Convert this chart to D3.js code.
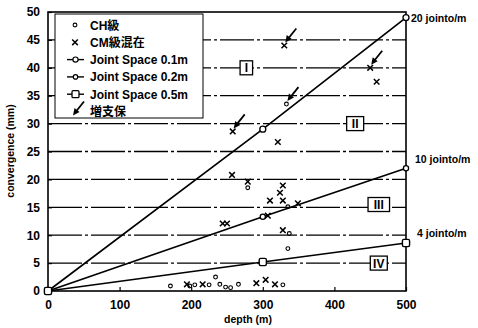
<!DOCTYPE html>
<html>
<head>
<meta charset="utf-8">
<script src="https://cdn.jsdelivr.net/npm/d3@7/dist/d3.min.js"></script>
<style>
  html, body { margin: 0; padding: 0; background: #fff; }
  svg text { font-family: "Liberation Sans", "Noto Sans CJK JP", sans-serif; font-weight: bold; fill: #000; }
</style>
</head>
<body>
<svg id="chart" width="478" height="328"></svg>
<script>
// Design lines: depth (m) vs predicted convergence (mm) for each joint spacing
const depths = [0, 300, 500];
const js01 = [0, 29, 49];    // Joint Space 0.1m (20 joints/m)
const js02 = [0, 13.3, 22];  // Joint Space 0.2m (10 joints/m)
const js05 = [0, 5.2, 8.6];  // Joint Space 0.5m (4 joints/m)

// Measured sections: CH class
const chDepth = [171, 198, 205, 225, 234, 240, 248, 255, 266, 328, 279, 333, 335, 337, 335];
const chConv  = [0.9, 0.9, 1.1, 1.1, 2.5, 1.2, 0.7, 0.6, 1.2, 1.1, 18.5, 33.5, 15.1, 10.3, 7.6];

// Measured sections: mixed CM class
const cmDepth = [330, 450, 459, 258, 321, 257, 279, 328, 324, 310, 328, 349, 307, 244, 250, 328, 194, 216, 291, 304, 317];
const cmConv  = [44, 40, 37.5, 28.6, 26.7, 20.8, 19.6, 18.9, 17.6, 16.2, 16.2, 15.7, 13.5, 12.1, 12.1, 10.9, 1.2, 1.2, 1.4, 2.0, 1.2];

// Sections where support was increased
const supDepth = [330, 450, 333, 258];
const supConv  = [44, 40, 33.5, 28.6];

// Axis ticks and labels
const xTicks = [0, 100, 200, 300, 400, 500];
const yTicks = [0, 5, 10, 15, 20, 25, 30, 35, 40, 45, 50];
const gridVals = [5, 10, 15, 20, 25, 30, 35, 40, 45];
const zoneNames = ["I", "II", "III", "IV"];
const zoneDepth = [277, 429, 462, 462];
const zoneConv  = [40, 30, 15.5, 5];
const lineNames = ["20 jointo/m", "10 jointo/m", "4 jointo/m"];
const legendNames = ["CH級", "CM級混在", "Joint Space 0.1m", "Joint Space 0.2m", "Joint Space 0.5m", "増支保"];

const svg = d3.select("#chart");
const x = d3.scaleLinear().domain([0, 500]).range([48, 406]);
const y = d3.scaleLinear().domain([0, 50]).range([291, 12]);

// horizontal grid (dash-dot)
svg.append("g").selectAll("line").data(gridVals).join("line")
  .attr("x1", x(0)).attr("x2", x(500))
  .attr("y1", d => y(d)).attr("y2", d => y(d))
  .attr("stroke", "#000").attr("stroke-width", 1.3)
  .attr("stroke-dasharray", "34,3,3,3");

// frame
svg.append("rect")
  .attr("x", x(0)).attr("y", y(50))
  .attr("width", x(500) - x(0)).attr("height", y(0) - y(50))
  .attr("fill", "none").attr("stroke", "#000").attr("stroke-width", 1.6);

// axes
const yAxis = d3.axisLeft(y).tickValues(yTicks).tickSize(-4).tickPadding(8);
const gy = svg.append("g").attr("transform", `translate(${x(0)},0)`).call(yAxis);
const xAxis = d3.axisBottom(x).tickValues(xTicks).tickSize(-4).tickPadding(9);
const gx = svg.append("g").attr("transform", `translate(0,${y(0)})`).call(xAxis);
[gy, gx].forEach(g => {
  g.select(".domain").remove();
  g.selectAll(".tick line").attr("stroke", "#000").attr("stroke-width", 1.2);
  g.selectAll(".tick text").attr("font-size", 12)
    .attr("font-family", "Liberation Sans, sans-serif").attr("font-weight", "bold");
});

// axis titles
svg.append("text").attr("x", 248).attr("y", 323).attr("text-anchor", "middle")
  .attr("font-size", 10.5).text("depth (m)");
svg.append("text").attr("transform", "translate(14,151) rotate(-90)")
  .attr("text-anchor", "middle").attr("font-size", 10.5).text("convergence (mm)");

// design lines with markers
const lineGen = d3.line().x((d, i) => x(depths[i])).y(d => y(d));
const series = [
  { vals: js01, shape: "circle", r: 3 },
  { vals: js02, shape: "circle", r: 2.6 },
  { vals: js05, shape: "square", r: 3.6 }
];
series.forEach(s => {
  svg.append("path").datum(s.vals).attr("d", lineGen)
    .attr("fill", "none").attr("stroke", "#000").attr("stroke-width", 1.7);
});
series.forEach(s => {
  const g = svg.append("g");
  s.vals.forEach((v, i) => {
    if (s.shape === "circle") {
      g.append("circle").attr("cx", x(depths[i])).attr("cy", y(v)).attr("r", s.r)
        .attr("fill", "#fff").attr("stroke", "#000").attr("stroke-width", 1.3);
    } else {
      g.append("rect").attr("x", x(depths[i]) - s.r).attr("y", y(v) - s.r)
        .attr("width", 2 * s.r).attr("height", 2 * s.r).attr("rx", 1.5)
        .attr("fill", "#fff").attr("stroke", "#000").attr("stroke-width", 1.4);
    }
  });
});

// line end labels
[js01, js02, js05].forEach((vals, i) => {
  svg.append("text").attr("x", x(500) + (i === 0 ? 5 : i === 1 ? 9 : 11))
    .attr("y", y(vals[vals.length - 1]) + (i === 0 ? 4 : i === 1 ? -5 : -6))
    .attr("font-size", 10.5).text(lineNames[i]);
});

// zone labels in boxes
zoneNames.forEach((n, i) => {
  const cx = x(zoneDepth[i]), cy = y(zoneConv[i]);
  const t = svg.append("text").attr("x", cx).attr("y", cy + 4.5)
    .attr("text-anchor", "middle").attr("font-size", 12)
    .attr("font-family", "Liberation Serif, serif").attr("font-weight", "bold").text(n);
  const w = 8 + n.length * 4.5;
  svg.insert("rect", () => t.node()).attr("x", cx - w / 2).attr("y", cy - 7)
    .attr("width", w).attr("height", 14)
    .attr("fill", "#fff").attr("stroke", "#000").attr("stroke-width", 1.3);
});

// measured points
const ptG = svg.append("g");
chDepth.forEach((d, i) => {
  ptG.append("circle").attr("cx", x(d)).attr("cy", y(chConv[i])).attr("r", 1.9)
    .attr("fill", "none").attr("stroke", "#000").attr("stroke-width", 1.1);
});
const cross = (g, cx, cy, s) => {
  g.append("path").attr("d", `M${cx - s},${cy - s}L${cx + s},${cy + s}M${cx - s},${cy + s}L${cx + s},${cy - s}`)
    .attr("stroke", "#000").attr("stroke-width", 1.5).attr("fill", "none");
};
cmDepth.forEach((d, i) => cross(ptG, x(d), y(cmConv[i]), 2.8));

// arrows for increased support
const arrow = (g, px, py) => {
  const tipX = px + 1, tipY = py - 3;
  g.append("line").attr("x1", tipX + 3).attr("y1", tipY - 4)
    .attr("x2", tipX + 11).attr("y2", tipY - 14)
    .attr("stroke", "#000").attr("stroke-width", 1.8);
  g.append("path").attr("d", `M${tipX},${tipY}L${tipX + 1.5},${tipY - 7.5}L${tipX + 6.5},${tipY - 3.5}Z`)
    .attr("fill", "#000");
};
supDepth.forEach((d, i) => arrow(ptG, x(d), y(supConv[i])));

// legend
const lg = svg.append("g");
lg.append("rect").attr("x", 55).attr("y", 14).attr("width", 148).attr("height", 104)
  .attr("fill", "#fff").attr("stroke", "#000").attr("stroke-width", 1);
const rowY = i => 25 + i * 17.3;
legendNames.forEach((n, i) => {
  lg.append("text").attr("x", 90).attr("y", rowY(i) + 4.5).attr("font-size", 12).text(n);
});
lg.append("circle").attr("cx", 75).attr("cy", rowY(0)).attr("r", 1.9)
  .attr("fill", "none").attr("stroke", "#000").attr("stroke-width", 1.1);
cross(lg, 75, rowY(1), 2.8);
[2, 3, 4].forEach(i => {
  lg.append("line").attr("x1", 67).attr("x2", 84).attr("y1", rowY(i)).attr("y2", rowY(i))
    .attr("stroke", "#000").attr("stroke-width", 1.4);
});
lg.append("circle").attr("cx", 75.5).attr("cy", rowY(2)).attr("r", 2.6)
  .attr("fill", "#fff").attr("stroke", "#000").attr("stroke-width", 1.2);
lg.append("circle").attr("cx", 75.5).attr("cy", rowY(3)).attr("r", 2.2)
  .attr("fill", "#fff").attr("stroke", "#000").attr("stroke-width", 1.2);
lg.append("rect").attr("x", 72).attr("y", rowY(4) - 3.5).attr("width", 7).attr("height", 7).attr("rx", 1.2)
  .attr("fill", "#fff").attr("stroke", "#000").attr("stroke-width", 1.3);
arrow(lg, 72, rowY(5) + 7);
</script>
</body>
</html>
